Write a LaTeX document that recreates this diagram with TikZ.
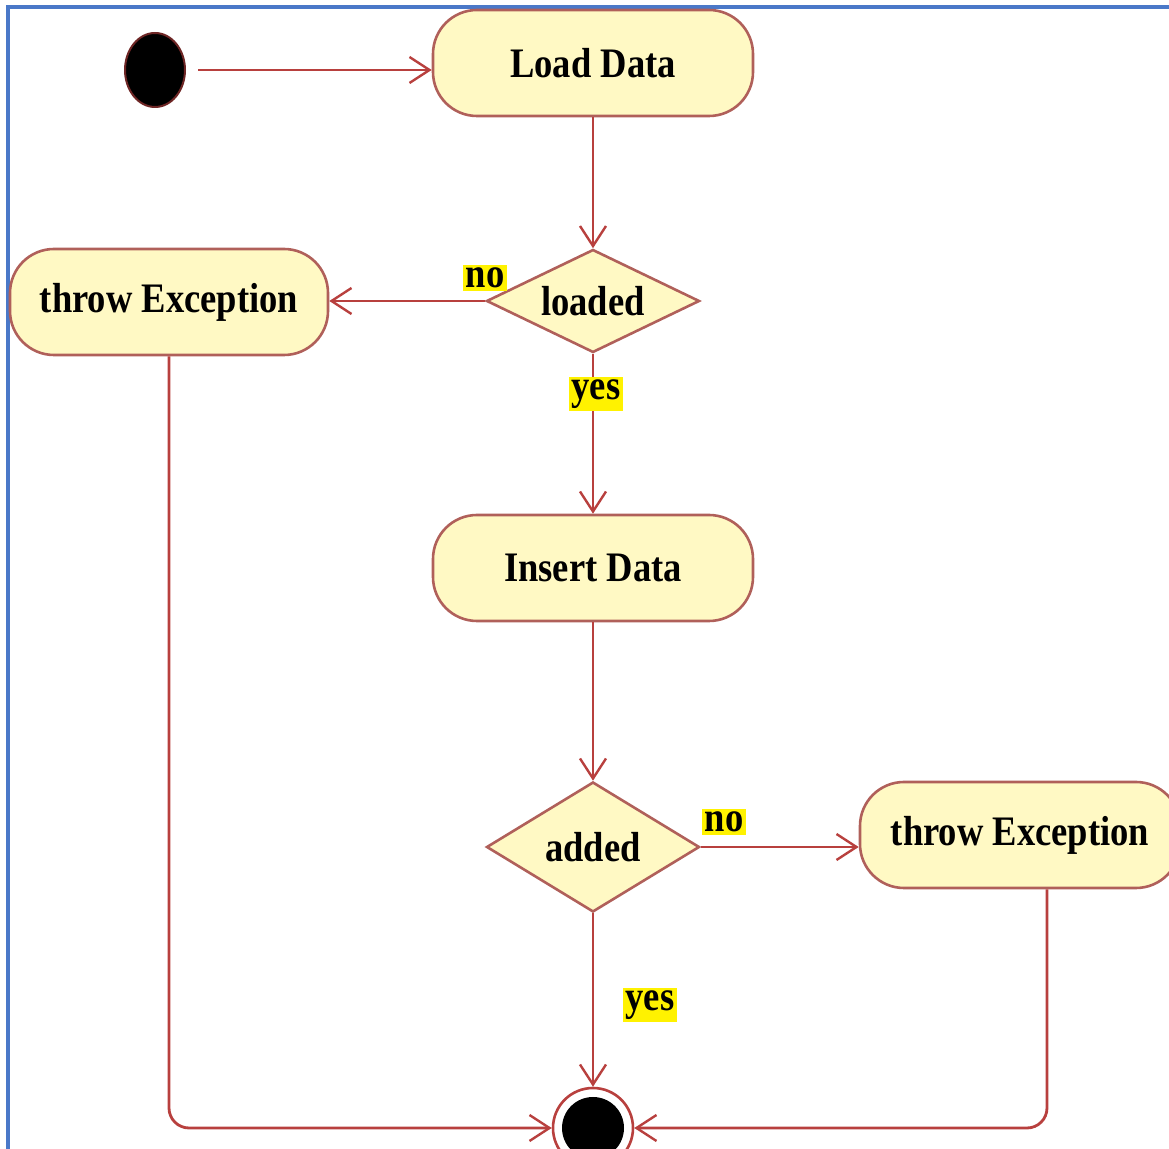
\documentclass[tikz,border=0pt]{standalone}
\usepackage{fontspec}
\setmainfont{Liberation Serif}[FakeStretch=0.87]
\usetikzlibrary{shapes.geometric,arrows.meta,calc}

\definecolor{actfill}{HTML}{FFF9C4}
\definecolor{actedge}{HTML}{B0605A}
\definecolor{flow}{HTML}{B8403E}
\definecolor{frameblue}{HTML}{4A78C8}

\tikzset{
  activity/.style={rectangle, rounded corners=22pt, draw=actedge, line width=1.3pt,
    fill=actfill, minimum width=160pt, minimum height=53pt,
    font=\fontsize{21}{24}\selectfont\bfseries},
  decision/.style={diamond, draw=actedge, line width=1.3pt, fill=actfill,
    inner sep=0pt, font=\fontsize{21}{24}\selectfont\bfseries},
  guard/.style={fill=yellow, inner sep=1.5pt, font=\fontsize{21}{24}\selectfont\bfseries},
  flowline/.style={draw=flow, line width=1.4pt,
    -{Straight Barb[length=10pt,width=13pt,line width=1.2pt]}},
}

\begin{document}
\begin{tikzpicture}[x=0.5pt,y=-0.5pt]
  \useasboundingbox (0,0) rectangle (1169,1149);
  % frame
  \draw[frameblue, line width=2pt] (8,1149) -- (8,7) -- (1169,7);

  % initial node
  \node[ellipse, fill=black, draw=flow!60!black, line width=1pt,
        minimum width=30pt, minimum height=37pt, inner sep=0pt] (start) at (155,70) {};

  % activities and decisions
  \node[activity] (load)   at (593,63)  {Load Data};
  \node[decision, shape aspect=2.07, minimum width=106.5pt, minimum height=51.5pt] (loaded) at (593,301) {loaded};
  \node[activity, minimum width=159pt] (throwL) at (169,302) {throw Exception};
  \node[activity] (insert) at (593,568) {Insert Data};
  \node[decision, shape aspect=1.64, minimum width=106.5pt, minimum height=65pt] (added) at (593,847) {added};
  \node[activity] (throwR) at (1020,835) {throw Exception};

  % final node
  \node[circle, draw=flow, line width=1.3pt, fill=white, minimum size=40pt,
        inner sep=0pt] (end) at (593,1128) {};
  \node[circle, fill=black, minimum size=31pt, inner sep=0pt] (endDot) at (end.center) {};

  % control flows
  \draw[flowline] ($(start.east)+(12,0)$) -- (load.west |- start.east);
  \draw[flowline] (load.south) -- (loaded.north);
  \draw[flowline] (loaded.west) -- (throwL.east |- loaded.west);
  \draw[flowline] (loaded.south) -- (insert.north);
  \draw[flowline] (insert.south) -- (added.north);
  \draw[flowline] (added.east) -- (throwR.west |- added.east);
  \draw[flowline] (added.south) -- (end.north);
  \draw[flowline, rounded corners=10pt] (throwL.south) |- (end.west);
  \draw[flowline, rounded corners=10pt] ($(throwR.south)+(27,0)$) |- (end.east);

  % guard labels, set over the flows
  \node[guard] (noL)  at (485,278)  {no};
  \node[guard] (yesL) at (596,394)  {yes};
  \node[guard] (noA)  at (724,822)  {no};
  \node[guard] (yesA) at (650,1005) {yes};
\end{tikzpicture}
\end{document}
